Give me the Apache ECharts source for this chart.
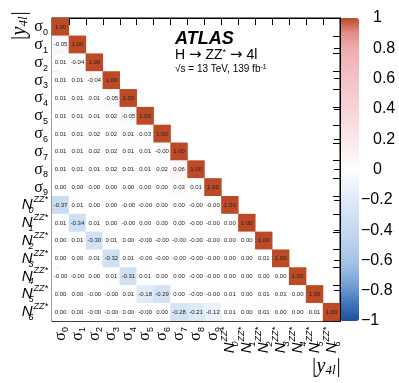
<!DOCTYPE html>
<html lang="en">
<head>
    <meta charset="UTF-8">
    <title>|y4l| correlation matrix</title>
    <script src="https://cdn.jsdelivr.net/npm/echarts@6/dist/echarts.min.js"></script>
    <style>html,body{margin:0;padding:0;background:#fff;}</style>
</head>
<body>
<div id="main" style="width: 399px;height:383px;"></div>
<script type="text/javascript">
    // parameter names (rows top->bottom, columns left->right)
    var params = ['σ0','σ1','σ2','σ3','σ4','σ5','σ6','σ7','σ8','σ9',
                  'N0','N1','N2','N3','N4','N5','N6'];

    // lower triangle of the correlation matrix, one row per parameter
    var corr = [
        [1.00],
        [-0.05, 1.00],
        [0.01, -0.04, 1.00],
        [0.01, 0.01, -0.04, 1.00],
        [0.01, 0.01, 0.01, -0.05, 1.00],
        [0.01, 0.01, 0.01, 0.02, -0.05, 1.00],
        [0.01, 0.01, 0.02, 0.02, 0.01, 0.03, 1.00],
        [0.01, 0.01, 0.02, 0.02, 0.01, 0.01, -0.00, 1.00],
        [0.01, 0.01, 0.01, 0.02, 0.01, 0.01, 0.02, 0.06, 1.00],
        [0.00, 0.00, 0.00, 0.00, 0.00, 0.00, 0.00, 0.03, 0.01, 1.00],
        [-0.37, 0.01, 0.00, 0.00, -0.00, -0.00, 0.00, 0.00, -0.00, -0.00, 1.00],
        [0.01, -0.34, 0.01, 0.00, -0.00, 0.00, 0.00, 0.00, -0.00, -0.00, 0.00, 1.00],
        [0.00, 0.01, -0.30, 0.01, 0.00, -0.00, -0.00, -0.00, -0.00, -0.00, 0.00, 0.00, 1.00],
        [0.00, 0.00, 0.01, -0.32, 0.01, -0.00, -0.00, -0.00, -0.00, -0.00, 0.00, 0.00, 0.01, 1.00],
        [-0.00, -0.00, 0.00, 0.01, -0.31, 0.01, 0.00, 0.00, -0.00, -0.00, 0.00, 0.00, 0.00, 0.00, 1.00],
        [0.00, 0.00, -0.00, -0.00, 0.01, -0.18, -0.29, 0.00, -0.00, -0.00, 0.01, 0.00, 0.01, 0.01, 0.00, 1.00],
        [0.00, 0.00, -0.00, -0.00, 0.00, -0.00, 0.00, -0.28, -0.21, -0.12, 0.01, 0.00, 0.01, 0.00, 0.00, 0.01, 1.00]
    ];

    // palette, evenly spaced from -1 to 1
    var palette = ['#1d4f9e','#3b6fb6','#6594cc','#8bb1dc','#a6c4e6','#b7d0ec','#c5daf0',
                   '#d2e2f4','#dfeaf7','#eff4fb','#ffffff','#fdf2f3','#fbe7e9','#f9dde0',
                   '#f7d4d7','#f5cbce','#f3c2c5','#f1b8bb','#eeacae','#e18f88','#bd4a27'];

    var cells = [];
    for (var i = 0; i < corr.length; i++) {
        for (var j = 0; j < corr[i].length; j++) {
            cells.push([j, i, corr[i][j]]);
        }
    }

    function paramLabel(v) {
        if (v.charAt(0) === 'σ') {
            return '{s|σ}{sb|' + v.slice(1) + '}';
        }
        return '{n|N}{nsb|' + v.slice(1) + '}{nsp|ZZ*}';
    }
    var labelRich = {
        s:   {fontFamily: 'Liberation Serif', fontSize: 16, color: '#000', lineHeight: 20},
        sb:  {fontFamily: 'Liberation Sans', fontSize: 9, color: '#000', lineHeight: 11, verticalAlign: 'bottom'},
        n:   {fontFamily: 'Liberation Sans', fontStyle: 'italic', fontSize: 15, color: '#000', lineHeight: 20},
        nsb: {fontFamily: 'Liberation Sans', fontStyle: 'italic', fontSize: 9, color: '#000', lineHeight: 10, verticalAlign: 'bottom', width: 1},
        nsp: {fontFamily: 'Liberation Sans', fontStyle: 'italic', fontSize: 9, color: '#000', lineHeight: 10, verticalAlign: 'top'}
    };

    var tick = {show: true, inside: true, length: 7, alignWithLabel: false, interval: 0, lineStyle: {color: '#000', width: 1}};
    var line = {show: true, lineStyle: {color: '#000', width: 1}};

    var chartDom = document.getElementById('main');
    var myChart = echarts.init(chartDom);
    var option;

    option = {
        animation: false,
        backgroundColor: '#fff',
        grid: [
            {left: 52, top: 18, width: 288, height: 303, show: true, borderColor: '#000', borderWidth: 1, backgroundColor: '#fff'},
            {left: 340, top: 18, width: 19, height: 303}
        ],
        xAxis: [
            {type: 'category', gridIndex: 0, data: params, position: 'bottom',
             axisLine: line, axisTick: tick, splitLine: {show: false},
             axisLabel: {interval: 0, rotate: 90, margin: 6, formatter: paramLabel, rich: labelRich}},
            {type: 'category', gridIndex: 0, data: params, position: 'top',
             axisLine: line, axisTick: tick, axisLabel: {show: false}},
            {type: 'value', gridIndex: 1, show: false, min: 0, max: 1}
        ],
        yAxis: [
            {type: 'category', gridIndex: 0, data: params, inverse: true, position: 'left',
             axisLine: line, axisTick: tick, splitLine: {show: false},
             axisLabel: {interval: 0, margin: 4, formatter: paramLabel, rich: labelRich}},
            {type: 'category', gridIndex: 0, data: params, inverse: true, position: 'right',
             axisLine: line, axisTick: tick, axisLabel: {show: false}},
            {type: 'value', gridIndex: 1, min: -1, max: 1, interval: 0.2, position: 'right', z: 10,
             axisLine: line, splitLine: {show: false},
             axisTick: {show: true, inside: true, length: 6, lineStyle: {color: '#000'}},
             axisLabel: {margin: 2, fontSize: 16, fontFamily: 'Liberation Sans', color: '#000',
                 rich: {pad: {width: 12}},
                 formatter: function (v) {
                     var r = Math.round(v * 10) / 10;
                     if (r < 0) return '\u2212' + String(Math.abs(r));
                     return '{pad|}' + String(r);
                 }}}
        ],
        visualMap: {
            type: 'continuous', min: -1, max: 1, seriesIndex: 0, dimension: 2,
            calculable: false, hoverLink: false, orient: 'vertical',
            left: 340, top: 18, itemWidth: 19, itemHeight: 303, padding: 0,
            inRange: {color: palette}
        },
        graphic: [
            {type: 'text', left: 175, top: 30, style: {text: 'ATLAS', fontFamily: 'Liberation Sans', fontStyle: 'italic', fontWeight: 'bold', fontSize: 18, fill: '#000'}},
            {type: 'text', left: 175, top: 48, style: {text: 'H {a|\u2192} ZZ{sp|*} {a|\u2192} 4l', fontFamily: 'Liberation Sans', fontStyle: 'normal', fontSize: 14, fill: '#000',
                rich: {
                    sp: {fontSize: 9, fontFamily: 'Liberation Sans', fontStyle: 'normal', verticalAlign: 'top', lineHeight: 10},
                    a: {fontSize: 15, fontFamily: 'DejaVu Sans', fontStyle: 'normal'}
                }}},
            {type: 'text', left: 175, top: 64, style: {text: '\u221As = 13 TeV, 139 fb{sp|-1}', fontFamily: 'Liberation Sans', fontSize: 10, fill: '#000',
                rich: {sp: {fontSize: 7, fontFamily: 'Liberation Sans', verticalAlign: 'top', lineHeight: 8}}}},
            {type: 'text', x: 20, y: 26, rotation: Math.PI / 2,
             style: {text: '|y{sb|4l}|', fontFamily: 'Liberation Serif', fontStyle: 'italic', fontSize: 20, fill: '#000', align: 'center', verticalAlign: 'middle',
                rich: {sb: {fontSize: 13, fontFamily: 'Liberation Serif', fontStyle: 'italic', verticalAlign: 'bottom', lineHeight: 14}}}},
            {type: 'text', x: 326, y: 367,
             style: {text: '|y{sb|4l}|', fontFamily: 'Liberation Serif', fontStyle: 'italic', fontSize: 20, fill: '#000', align: 'center', verticalAlign: 'middle',
                rich: {sb: {fontSize: 13, fontFamily: 'Liberation Serif', fontStyle: 'italic', verticalAlign: 'bottom', lineHeight: 14}}}}
        ],
        series: [
            {
                type: 'heatmap',
                xAxisIndex: 0,
                yAxisIndex: 0,
                data: cells,
                label: {
                    show: true, fontSize: 6, fontFamily: 'Liberation Sans', color: '#222',
                    formatter: function (p) {
                        var v = corr[p.value[1]][p.value[0]];
                        var neg = v < 0 || Object.is(v, -0);
                        return (neg ? '-' : '') + Math.abs(v).toFixed(2);
                    }
                },
                itemStyle: {borderWidth: 0},
                emphasis: {disabled: true}
            }
        ]
    };

    option && myChart.setOption(option);
</script>
</body>
</html>
